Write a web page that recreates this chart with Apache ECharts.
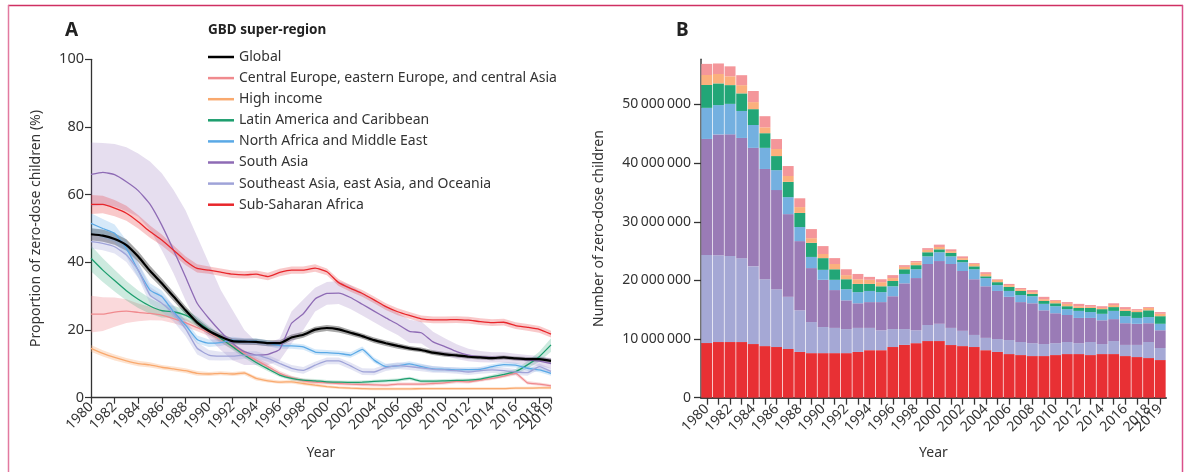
<!DOCTYPE html>
<html><head><meta charset="utf-8">
<script src="https://cdn.jsdelivr.net/npm/echarts@6/dist/echarts.min.js"></script>
<style>html,body{margin:0;padding:0;background:#fff}#c{width:1187px;height:472px}</style>
</head><body><div id="c"></div>
<script>
// ---------- DATA ----------
const years = [1980,1981,1982,1983,1984,1985,1986,1987,1988,1989,1990,1991,1992,1993,1994,1995,1996,1997,1998,1999,2000,2001,2002,2003,2004,2005,2006,2007,2008,2009,2010,2011,2012,2013,2014,2015,2016,2017,2018,2019];
const tickYears = [1980,1982,1984,1986,1988,1990,1992,1994,1996,1998,2000,2002,2004,2006,2008,2010,2012,2014,2016,2018,2019];
const labelYears = [1980,1982,1984,1986,1988,1990,1992,1994,1996,1998,2000,2002,2004,2006,2008,2010,2012,2014,2016,2018];
const lastYear = [2019];
const regionNames = ['Global','Central Europe, eastern Europe, and central Asia','High income','Latin America and Caribbean','North Africa and Middle East','South Asia','Southeast Asia, east Asia, and Oceania','Sub-Saharan Africa'];

// Panel A: proportion of zero-dose children (%)
const globalPct = [48.3,47.9,46.9,45.1,41.7,37.5,33.8,29.9,25.9,22.2, 19.7,18.0,16.7,16.55,16.5,16.1,16.1,17.8,18.6,20.1, 20.6,20.2,19.2,18.2,17.0,16.1,15.3,14.6,14.1,13.3, 12.8,12.5,12.1,11.9,11.7,11.9,11.6,11.4,11.4,10.9];
const cePct = [24.7,24.7,25.3,25.6,25.2,24.9,24.4,23.4,22.2,20.7, 19.2,17.2,15.3,13.1,11.1,9.2,7.2,5.9,5.0,4.6, 4.4,4.2,4.0,3.9,3.8,3.7,4.0,4.0,4.0,4.2, 4.4,4.8,4.7,5.2,5.7,6.4,7.2,4.4,4.0,3.5];
const hiPct = [14.6,13.1,11.9,10.9,10.1,9.7,9.0,8.5,8.0,7.2, 7.0,7.2,7.0,7.3,5.7,5.0,4.6,4.7,4.2,3.7, 3.3,3.0,2.8,2.7,2.6,2.6,2.6,2.6,2.7,2.7, 2.7,2.7,2.7,2.7,2.7,2.7,2.8,2.8,2.9,2.9];
const laPct = [41.2,37.7,34.6,31.6,29.1,27.1,25.7,25.4,24.4,22.5, 20.0,17.5,15.1,12.6,10.4,8.5,6.7,5.7,5.2,5.0, 4.7,4.6,4.5,4.6,4.8,5.0,5.2,5.7,4.9,4.9, 5.0,5.1,5.2,5.5,6.2,6.9,7.7,9.7,12.1,15.6];
const naPct = [51.5,50.0,48.6,44.1,37.7,31.8,29.9,25.4,21.5,17.2, 16.1,16.3,17.0,16.7,16.7,16.1,15.4,15.3,15.0,13.5, 13.3,13.1,12.6,14.3,11.1,9.2,9.4,10.0,9.2,8.5, 8.4,8.2,8.3,8.4,9.2,9.8,9.6,8.7,8.2,7.2];
const saPct = [66.0,66.6,65.9,63.8,61.2,57.2,51.0,43.6,35.8,27.9, 23.4,19.5,16.1,13.6,12.6,12.8,14.3,22.0,24.8,29.2, 30.8,30.9,29.6,27.6,25.6,23.6,21.7,19.6,19.2,16.5, 15.1,13.6,12.6,12.1,11.9,11.9,11.5,11.1,10.8,10.1];
const seaPct = [46.1,45.6,44.6,42.2,37.7,30.3,27.9,24.9,20.5,14.6, 12.6,12.3,12.3,12.6,12.6,11.6,10.1,8.7,8.1,9.6, 10.9,10.9,9.4,7.7,7.6,8.9,9.5,9.2,8.8,8.4, 8.2,8.0,7.6,8.0,8.2,8.0,7.6,7.4,9.2,7.8];
const ssaPct = [57.1,57.1,56.0,54.5,52.0,49.1,46.6,43.6,40.5,38.2, 37.7,37.1,36.5,36.3,36.5,35.8,37.0,37.7,37.7,38.3, 37.2,34.0,32.3,30.8,28.9,26.9,25.4,24.3,23.3,23.0, 23.0,23.1,22.9,22.5,22.2,22.3,21.3,20.8,20.2,18.8];

// Uncertainty half-widths (percentage points)
const globalCI = [1.8,1.8,1.7,1.7,1.6,1.5,1.4,1.3,1.2,1.1, 1.0,0.9,0.9,0.9,0.9,0.9,0.9,0.9,0.9,0.9, 0.9,0.9,0.8,0.8,0.8,0.8,0.8,0.7,0.7,0.7, 0.7,0.6,0.6,0.6,0.6,0.6,0.6,0.6,0.6,0.7];
const ceCI = [5.4,5.0,4.3,3.5,2.6,2.0,1.6,1.4,1.2,1.1, 1.0,1.0,0.9,0.9,0.8,0.8,0.7,0.6,0.6,0.6, 0.5,0.5,0.5,0.5,0.5,0.5,0.5,0.5,0.5,0.5, 0.5,0.5,0.5,0.5,0.5,0.5,0.6,0.5,0.5,0.5];
const hiCI = [1.0,0.9,0.9,0.8,0.8,0.8,0.7,0.7,0.7,0.7, 0.6,0.6,0.6,0.6,0.6,0.5,0.5,0.5,0.5,0.5, 0.4,0.4,0.4,0.4,0.4,0.4,0.4,0.4,0.4,0.4, 0.4,0.4,0.4,0.4,0.4,0.4,0.4,0.4,0.4,0.4];
const laCI = [3.8,3.5,3.2,2.9,2.6,2.3,2.0,1.8,1.6,1.4, 1.2,1.1,1.0,0.9,0.8,0.7,0.6,0.6,0.5,0.5, 0.5,0.5,0.5,0.5,0.5,0.5,0.5,0.5,0.5,0.5, 0.5,0.5,0.5,0.5,0.6,0.7,0.8,1.1,1.5,2.0];
const naCI = [3.0,2.8,2.6,2.4,2.2,2.0,1.8,1.6,1.4,1.2, 1.1,1.0,1.0,0.9,0.9,0.9,0.9,0.8,0.8,0.8, 0.8,0.8,0.8,0.8,0.8,0.8,0.8,0.8,0.8,0.8, 0.7,0.7,0.7,0.7,0.7,0.7,0.7,0.7,0.7,0.7];
const saLo = [56.5,56.8,56.5,55.2,53.5,49.6,43.6,36.7,28.9,22.0, 17.5,14.1,11.1,9.7,9.7,9.7,11.0,16.0,20.0,25.5, 27.5,27.7,26.2,24.3,22.3,20.3,18.5,16.2,16.0,13.8, 12.5,11.4,10.8,10.5,10.4,10.4,10.0,9.7,9.4,8.6];
const saHi = [75.4,75.3,75.0,74.0,72.2,69.8,66.3,61.4,55.5,47.6, 39.7,31.8,25.9,20.0,16.5,16.2,17.5,25.5,29.0,32.5, 34.2,34.5,33.2,31.0,29.0,27.0,25.0,23.0,22.5,19.5, 17.6,15.8,14.5,13.8,13.4,13.4,13.0,12.6,12.3,11.7];
const seaCI = [2.0,2.0,2.0,2.1,2.3,2.5,2.5,2.4,2.2,1.8, 1.5,1.3,1.2,1.1,1.1,1.0,1.0,1.0,1.0,1.0, 1.0,1.0,1.0,1.0,1.0,1.0,1.0,1.0,1.0,1.0, 0.9,0.9,0.9,0.9,0.9,0.9,0.9,0.9,0.9,0.9];
const ssaCI = [2.8,2.6,2.4,2.2,2.0,1.8,1.6,1.4,1.3,1.2, 1.1,1.1,1.1,1.1,1.1,1.1,1.1,1.1,1.1,1.1, 1.0,1.0,1.0,1.0,1.0,1.0,1.0,1.0,1.0,1.0, 1.0,1.0,1.0,1.0,1.0,1.0,1.0,1.0,1.0,1.0];

// Panel B: number of zero-dose children (millions)
const barSSA = [9.32,9.49,9.49,9.49,9.15,8.8,8.64,8.3,7.8,7.6, 7.6,7.6,7.6,7.8,8.1,8.1,8.64,9.0,9.3,9.66, 9.66,8.98,8.8,8.64,8.1,7.8,7.44,7.27,7.1,7.1, 7.27,7.44,7.44,7.27,7.44,7.44,7.1,6.93,6.76,6.42];
const barSEA = [15.0,14.8,14.66,14.3,13.25,11.4,9.86,8.9,7.1,5.3, 4.45,4.3,4.1,4.1,3.8,3.4,3.06,2.7,2.2,2.74, 2.94,2.92,2.6,2.06,2.1,2.2,2.39,2.23,2.2,2.05, 2.03,2.06,1.86,2.23,1.71,2.22,1.9,2.07,2.74,2.05];
const barSA = [19.8,20.6,20.75,20.5,20.2,18.8,16.9,14.1,11.8,9.2, 8.05,6.45,4.9,4.2,4.4,4.8,5.6,7.8,8.9,10.4, 10.7,10.9,10.2,9.5,8.8,8.2,7.37,6.8,6.8,5.75, 5.1,4.6,4.3,4.1,4.05,3.74,3.7,3.6,3.2,3.03];
const barNA = [5.3,5.0,5.2,4.6,3.9,3.6,3.4,2.9,2.4,1.9, 1.7,1.75,1.9,1.9,1.9,1.7,1.7,1.6,1.5,1.3, 1.5,1.3,1.5,1.7,1.4,1.0,1.0,1.2,1.2,1.1, 1.2,1.0,1.2,1.0,1.1,1.4,1.2,1.0,1.05,1.1];
const barLA = [3.9,3.7,3.2,3.0,2.7,2.5,2.4,2.6,2.4,2.4, 2.0,1.8,1.7,1.4,1.2,1.0,0.9,0.8,0.7,0.7, 0.5,0.6,0.4,0.5,0.3,0.5,0.7,0.7,0.4,0.5, 0.5,0.5,0.5,0.7,0.8,0.65,0.9,1.0,1.15,1.3];
const barHI = [1.7,1.6,1.5,1.4,1.2,1.0,1.2,1.0,1.0,0.8, 0.7,0.9,0.7,0.8,0.7,0.7,0.5,0.4,0.5,0.4, 0.4,0.3,0.3,0.4,0.4,0.4,0.3,0.3,0.3,0.3, 0.4,0.4,0.3,0.2,0.2,0.35,0.3,0.3,0.4,0.4];
const barCE = [1.9,1.8,1.7,1.7,1.9,1.9,1.7,1.7,1.5,1.55, 1.35,1.0,1.0,0.9,0.5,0.5,0.5,0.3,0.2,0.3, 0.4,0.3,0.3,0.15,0.3,0.1,0.2,0.2,0.35,0.4, 0.15,0.3,0.4,0.3,0.3,0.3,0.35,0.2,0.15,0.3];
const countTicks = [0,10000000,20000000,30000000,40000000,50000000];

// ---------- CHART ----------
const FONT = 'Noto Sans';
const TXT = '#333';
const lineCols = ['#000000','#f08a8e','#f9a96e','#1d9e6e','#5aa9e6','#8e6bb5','#9fa3d8','#e8262b'];
const bandCols = ['rgba(60,60,60,0.45)','rgba(240,138,142,0.32)','rgba(249,169,110,0.32)','rgba(29,158,110,0.22)','rgba(90,169,230,0.25)','rgba(142,107,181,0.22)','rgba(159,163,216,0.28)','rgba(232,38,43,0.25)'];
const pctData = [globalPct,cePct,hiPct,laPct,naPct,saPct,seaPct,ssaPct];
const ciData = [globalCI,ceCI,hiCI,laCI,naCI,null,seaCI,ssaCI];

const series = [];
pctData.forEach((vals, r) => {
  const lo = r === 5 ? saLo : vals.map((v, i) => v - ciData[r][i]);
  const hi = r === 5 ? saHi : vals.map((v, i) => v + ciData[r][i]);
  series.push({
    type: 'custom', name: 'band' + r, xAxisIndex: 0, yAxisIndex: 0, silent: true, z: 1,
    data: years.map((y, i) => [y, lo[i], hi[i]]),
    encode: { x: 0, y: [1, 2] },
    clip: true,
    renderItem: function (params, api) {
      if (params.dataIndex !== 0) return null;
      const pts = [];
      for (let i = 0; i < years.length; i++) pts.push(api.coord([years[i], hi[i]]));
      for (let i = years.length - 1; i >= 0; i--) pts.push(api.coord([years[i], lo[i]]));
      return { type: 'polygon', shape: { points: pts }, style: { fill: bandCols[r] } };
    }
  });
});
pctData.forEach((vals, r) => {
  series.push({
    type: 'line', name: regionNames[r], xAxisIndex: 0, yAxisIndex: 0,
    data: years.map((y, i) => [y, vals[i]]), showSymbol: false, smooth: 0.15,
    color: lineCols[r], lineStyle: { color: lineCols[r], width: r === 0 ? 2.2 : 1.3 }, z: 3 + (r === 0 ? 1 : 0)
  });
});

const barCols = ['#e83034','#a5a8d5','#9a7bb6','#74b0e0','#22a677','#fbb07d','#f4969a'];
[barSSA,barSEA,barSA,barNA,barLA,barHI,barCE].forEach((arr, k) => {
  series.push({
    type: 'bar', name: 'bar' + k, xAxisIndex: 1, yAxisIndex: 1, stack: 'count',
    data: arr.map(v => v * 1e6), barCategoryGap: '6%',
    itemStyle: { color: barCols[k] }, silent: true
  });
});

const fmtCount = v => v === 0 ? '0' : String(v).replace(/\B(?=(\d{3})+(?!\d))/g, '\u2009');
const labelStyle = { rotate: 45, fontSize: 14, color: TXT, fontFamily: FONT };

const option = {
  animation: false,
  backgroundColor: '#fff',
  textStyle: { fontFamily: FONT },
  grid: [
    { left: 91, right: 636, top: 59.3, bottom: 74.3 },
    { left: 701, right: 21, top: 59.3, bottom: 74.3 }
  ],
  xAxis: [
    { type: 'value', gridIndex: 0, min: 1980, max: 2019, position: 'bottom',
      axisLine: { show: true, onZero: false, lineStyle: { color: '#333', width: 1.3 } },
      axisTick: { show: true, customValues: tickYears, length: 6, lineStyle: { color: '#333', width: 1.2 } },
      axisLabel: Object.assign({ customValues: labelYears, margin: 7, formatter: v => String(v) }, labelStyle),
      splitLine: { show: false },
      name: 'Year', nameLocation: 'middle', nameGap: 48, nameTextStyle: { fontSize: 14, color: TXT, fontFamily: FONT } },
    { type: 'category', gridIndex: 1, data: years.map(String), position: 'bottom',
      axisLine: { show: true, lineStyle: { color: '#444', width: 2 } },
      axisTick: { show: true, alignWithLabel: true, interval: 0, length: 7, lineStyle: { color: '#333', width: 1.3 } },
      axisLabel: Object.assign({ interval: (i) => i % 2 === 0 && i < 39, margin: 9 }, labelStyle),
      name: 'Year', nameLocation: 'middle', nameGap: 48, nameTextStyle: { fontSize: 14, color: TXT, fontFamily: FONT } },
    { type: 'value', gridIndex: 0, min: 1980, max: 2019, position: 'bottom', offset: 0,
      axisLine: { show: false, onZero: false }, axisTick: { show: false }, splitLine: { show: false },
      axisLabel: Object.assign({ customValues: lastYear, margin: 7, formatter: v => String(v) }, labelStyle) },
    { type: 'category', gridIndex: 1, data: years.map(String), position: 'bottom', offset: 0,
      axisLine: { show: false, onZero: false }, axisTick: { show: false }, splitLine: { show: false },
      axisLabel: Object.assign({ interval: (i) => i === 39, margin: 9 }, labelStyle) }
  ],
  yAxis: [
    { type: 'value', gridIndex: 0, min: 0, max: 100, interval: 20,
      axisLine: { show: true, lineStyle: { color: '#333', width: 1.3 } },
      axisTick: { show: true, length: 6, lineStyle: { color: '#333', width: 1.2 } },
      axisLabel: { fontSize: 14.5, color: TXT, margin: 7, fontFamily: FONT },
      splitLine: { show: false },
      name: 'Proportion of zero-dose children (%)', nameLocation: 'middle', nameGap: 48,
      nameTextStyle: { fontSize: 14, color: TXT, fontFamily: FONT } },
    { type: 'value', gridIndex: 1, min: 0, max: 57700000,
      axisLine: { show: true, lineStyle: { color: '#444', width: 1.5 } },
      axisTick: { show: true, customValues: countTicks, length: 7, lineStyle: { color: '#333', width: 1.3 } },
      axisLabel: { customValues: countTicks, fontSize: 14, color: TXT, margin: 10, fontFamily: FONT, formatter: fmtCount },
      splitLine: { show: false },
      name: 'Number of zero-dose children', nameLocation: 'middle', nameGap: 95,
      nameTextStyle: { fontSize: 14, color: TXT, fontFamily: FONT } }
  ],
  legend: {
    data: regionNames, orient: 'vertical', left: 208, top: 50, padding: 0,
    icon: 'rect', itemWidth: 26, itemHeight: 2.5, itemGap: 7.1, itemTextGap: 5,
    selectedMode: false,
    textStyle: { fontSize: 14, color: TXT, lineHeight: 13, fontFamily: FONT }
  },
  graphic: [
    { type: 'line', shape: { x1: 8, y1: 5.5, x2: 1183, y2: 5.5 }, style: { stroke: '#cf2f62', lineWidth: 1.5 }, silent: true },
    { type: 'line', shape: { x1: 8.5, y1: 5, x2: 8.5, y2: 472 }, style: { stroke: '#e27aa0', lineWidth: 1.5 }, silent: true },
    { type: 'line', shape: { x1: 1182.5, y1: 5, x2: 1182.5, y2: 472 }, style: { stroke: '#d9508a', lineWidth: 1.5 }, silent: true },
    { type: 'text', left: 65, top: 21, style: { text: 'A', font: 'bold 19px "Noto Sans"', fill: '#222' } },
    { type: 'text', left: 676, top: 21, style: { text: 'B', font: 'bold 19px "Noto Sans"', fill: '#222' } },
    { type: 'text', left: 208, top: 23, style: { text: 'GBD super-region', font: 'bold 13.5px "Noto Sans"', fill: '#222' } }
  ],
  series: series
};

const chart = echarts.init(document.getElementById('c'), null, { renderer: 'canvas' });
chart.setOption(option);
</script>
</body></html>
